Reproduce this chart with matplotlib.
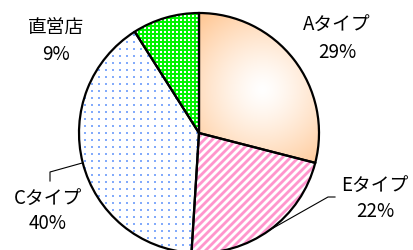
import matplotlib
matplotlib.use("Agg")
import matplotlib.pyplot as plt
import numpy as np

plt.rcParams["font.family"] = ["Noto Sans CJK JP", "DejaVu Sans"]

# data (clockwise from 12 o'clock)
labels = ["Aタイプ", "Eタイプ", "Cタイプ", "直営店"]
shares = [29, 22, 40, 9]

W, H = 414, 251
CX, CY, R = 199, H - 134, 120

fig = plt.figure(figsize=(W / 100, H / 100), dpi=100)
ax = fig.add_axes([0, 0, 1, 1])

wedges, _ = ax.pie(
    shares,
    startangle=90,
    counterclock=False,
    center=(CX, CY),
    radius=R,
    wedgeprops=dict(facecolor="none", edgecolor="black", linewidth=1.6),
)
ax.set_xlim(0, W)
ax.set_ylim(0, H)
ax.set_aspect("equal")
ax.axis("off")

# pixel textures (row 0 = top of image)
yy, xx = np.mgrid[0:H, 0:W].astype(float)


def blend(bg, fg, a):
    bg = np.array(bg, float) / 255
    fg = np.array(fg, float) / 255
    return bg * (1 - a[..., None]) + fg * a[..., None]


# A: radial peach gradient
d = np.hypot(xx - 262, yy - 90) / 95
tex_a = blend((255, 255, 255), (255, 200, 150), np.clip(d, 0, 1) ** 1.3)

# E: pink diagonal stripes
s = 0.5 + 0.5 * np.cos(2 * np.pi * (xx + yy) / 8)
tex_e = blend((255, 255, 255), (255, 150, 205), np.clip((s - 0.5) * 2.2 + 0.5, 0, 1))

# C: blue dots on white
dots = ((xx % 7 < 2) & (yy % 7 < 2)).astype(float)
tex_c = blend((255, 255, 255), (100, 150, 250), dots * 0.8)

# 直営店: green check with white
chk = ((xx % 4 < 2) & (yy % 4 < 2)).astype(float)
tex_g = blend((0, 245, 0), (255, 255, 255), chk)

for w, tex in zip(wedges, [tex_a, tex_e, tex_c, tex_g]):
    im = ax.imshow(tex, extent=(0, W, 0, H), origin="upper",
                   interpolation="nearest", zorder=0)
    im.set_clip_path(w)
    w.set_zorder(2)

# leader lines
ang_e = np.deg2rad(90 - 360 * (shares[0] + shares[1] / 2) / 100)
ang_c = np.deg2rad(90 - 360 * (shares[0] + shares[1] + shares[2] / 2) / 100)
ax.plot([CX + R * np.cos(ang_e), 328, 335], [CY + R * np.sin(ang_e), H - 198, H - 198],
        color="black", lw=0.8, zorder=3)
ax.plot([CX + R * np.cos(ang_c), 50, 50], [CY + R * np.sin(ang_c), H - 173, H - 182],
        color="black", lw=0.8, zorder=3)

# labels
pos = {"Aタイプ": (337, 24, 52), "Eタイプ": (375, 185, 212),
       "Cタイプ": (48, 198, 224), "直営店": (56, 28, 55)}
for lab, v in zip(labels, shares):
    x, y1, y2 = pos[lab]
    ax.text(x, H - y1, lab, ha="center", va="center", fontsize=13.5, zorder=4)
    ax.text(x, H - y2, f"{v}%", ha="center", va="center", fontsize=13.5, zorder=4)

fig.savefig("out.png", dpi=100)
